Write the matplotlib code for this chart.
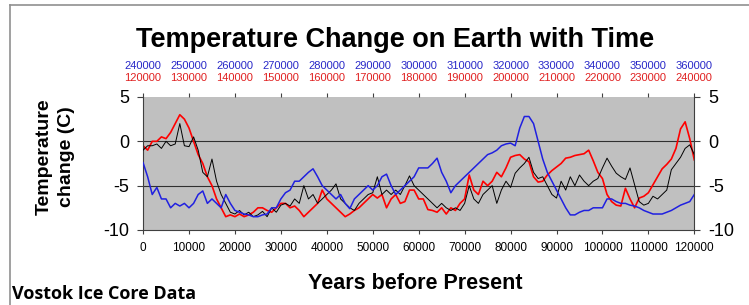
# Vostok ice core temperature chart, three 120000 year slices on one axis
import matplotlib
matplotlib.use("Agg")
import matplotlib.pyplot as plt
from matplotlib.lines import Line2D

plt.rcParams['font.family'] = ['Liberation Sans', 'DejaVu Sans']
plt.rcParams['axes.unicode_minus'] = False

# years before present for the bottom (black) slice, the other two are shifted
years = list(range(0, 121000, 1000))
red_offset = 120000
blue_offset = 240000

# 0 - 120000 years
temp_black = [-1.0, -0.5, -0.5, -0.3, -0.8, 0.0, -0.5, -0.3, 2.0, -0.5,
              -0.6, 0.5, -1.0, -3.5, -4.0, -2.0, -4.5, -6.0, -7.0, -8.0,
              -8.2, -7.8, -8.3, -8.0, -8.5, -8.3, -7.9, -8.5, -7.5, -8.0,
              -7.2, -7.0, -7.3, -6.5, -7.0, -5.0, -6.5, -6.0, -7.0, -6.5,
              -6.0, -5.5, -4.8, -6.5, -7.0, -7.5, -7.8, -7.0, -6.5, -6.0,
              -5.8, -4.0, -6.0, -5.5, -6.0, -5.5, -6.0, -5.0, -3.9, -5.0,
              -5.5, -6.0, -6.5, -7.0, -7.5, -7.0, -7.5, -7.8, -7.5, -7.8,
              -7.0, -5.0, -6.5, -7.0, -6.0, -5.5, -5.0, -7.0, -5.5, -4.5,
              -5.2, -3.6, -3.0, -2.5, -1.8, -3.5, -4.2, -4.0, -5.0, -6.0,
              -6.4, -4.5, -5.5, -4.0, -5.0, -3.8, -4.5, -5.0, -4.5, -4.2,
              -3.0, -1.9, -2.8, -3.6, -4.0, -4.3, -3.0, -4.9, -6.8, -7.2,
              -7.0, -6.2, -6.5, -6.0, -5.5, -3.2, -2.5, -1.8, -0.8, -0.4,
              -1.5]

# 120000 - 240000 years
temp_red = [-0.5, -1.0, 0.0, 0.0, 0.5, 0.3, 1.0, 2.0, 3.0, 2.5,
            1.5, 0.0, -1.5, -2.5, -4.0, -5.0, -6.5, -7.5, -8.5, -8.3,
            -8.5, -8.2, -8.5, -8.3, -8.0, -7.5, -7.5, -7.8, -8.0, -7.5,
            -7.0, -7.0, -7.5, -7.3, -7.8, -8.5, -8.0, -7.5, -7.0, -5.5,
            -6.5, -7.0, -7.5, -8.0, -8.5, -8.2, -7.8, -7.5, -7.0, -6.5,
            -6.0, -6.4, -6.0, -7.5, -6.5, -6.0, -7.0, -6.8, -5.5, -5.5,
            -6.5, -6.5, -7.7, -7.8, -8.0, -7.5, -8.2, -7.5, -7.8, -7.0,
            -6.5, -3.8, -5.5, -6.0, -4.5, -5.0, -4.5, -3.5, -4.0, -3.0,
            -1.8, -1.6, -1.5, -2.0, -2.3, -4.0, -4.6, -4.5, -3.8, -3.3,
            -2.9, -2.5, -1.9, -1.8, -1.6, -1.5, -1.4, -1.0, -2.2, -3.5,
            -4.2, -6.0, -6.8, -7.2, -7.3, -5.3, -6.5, -7.5, -6.4, -6.2,
            -5.8, -4.9, -4.0, -3.1, -2.6, -2.0, -0.8, 1.4, 2.2, 0.3,
            -2.1]

# 240000 - 360000 years
temp_blue = [-2.4, -4.0, -6.0, -5.2, -6.5, -6.5, -7.5, -7.0, -7.3, -7.0,
             -7.5, -7.0, -6.0, -5.6, -7.0, -6.5, -7.0, -7.5, -6.0, -7.0,
             -7.8, -8.0, -8.2, -8.3, -8.5, -8.5, -8.3, -8.2, -7.5, -7.5,
             -6.5, -5.8, -5.5, -4.5, -4.5, -4.0, -3.5, -3.1, -4.0, -5.0,
             -5.5, -6.0, -6.5, -6.0, -7.0, -7.6, -6.5, -6.0, -5.5, -5.0,
             -5.5, -5.0, -4.0, -3.7, -5.0, -6.0, -5.5, -5.0, -4.5, -4.0,
             -3.0, -3.0, -3.0, -2.5, -1.9, -3.5, -4.5, -5.8, -5.0, -4.5,
             -4.0, -3.5, -3.0, -2.5, -2.0, -1.5, -1.3, -1.0, -0.5, -0.3,
             -0.2, -0.5, 1.5, 2.8, 2.8, 2.0, 0.0, -2.0, -3.5, -4.5,
             -5.5, -6.5, -7.5, -8.3, -8.3, -8.0, -7.8, -7.8, -7.5, -7.5,
             -7.5, -6.5, -6.5, -6.8, -7.0, -7.0, -7.2, -7.3, -7.5, -7.8,
             -8.0, -8.2, -8.2, -8.2, -8.0, -7.8, -7.5, -7.2, -7.0, -6.8,
             -6.0]

xticks = list(range(0, 130000, 10000))
yticks = [5, 0, -5, -10]

fig = plt.figure(figsize=(7.49, 3.05), dpi=100)
ax = fig.add_axes([0.191, 0.246, 0.736, 0.436])
ax.set_facecolor('#C0C0C0')

# gridlines at 0 and -5
for yv in [0, -5]:
    ax.axhline(yv, color='#303030', lw=0.8, zorder=1)

ax.plot(years, temp_red, color='#FF0000', lw=1.2, zorder=2)
ax.plot(years, temp_black, color='black', lw=0.7, zorder=3)
ax.plot(years, temp_blue, color='#2020E0', lw=1.1, zorder=4)

ax.set_xlim(0, 120000)
ax.set_ylim(-10, 5)
ax.set_xticks(xticks)
ax.set_xticklabels([str(t) for t in xticks], fontsize=8.5)
ax.set_yticks(yticks)
ax.tick_params(axis='x', direction='out', length=3, pad=6, top=True, color='#404040')
ax.tick_params(axis='y', direction='out', length=4, pad=6, labelsize=13,
               right=True, labelright=True, color='#404040')
for side in ['left', 'right', 'bottom']:
    ax.spines[side].set_color('#404040')
    ax.spines[side].set_linewidth(0.8)
ax.spines['top'].set_visible(False)

# extra top axes for the red and blue slices
sec_red = ax.secondary_xaxis('top', functions=(lambda x: x + red_offset, lambda x: x - red_offset))
sec_red.set_xticks([t + red_offset for t in xticks])
sec_red.set_xticklabels([str(t + red_offset) for t in xticks], fontsize=8, color='#E02020')
sec_red.tick_params(length=0, pad=10)
sec_red.spines['top'].set_visible(False)

sec_blue = ax.secondary_xaxis('top', functions=(lambda x: x + blue_offset, lambda x: x - blue_offset))
sec_blue.set_xticks([t + blue_offset for t in xticks])
sec_blue.set_xticklabels([str(t + blue_offset) for t in xticks], fontsize=8, color='#2828C8')
sec_blue.tick_params(length=0, pad=19)
sec_blue.spines['top'].set_visible(False)

# titles and labels
fig.text(0.527, 0.868, 'Temperature Change on Earth with Time', fontsize=19.5,
         fontweight='bold', ha='center', va='center')
fig.text(0.074, 0.487, 'Temperature\nchange (C)', fontsize=14, fontweight='bold',
         rotation=90, ha='center', va='center', multialignment='center', linespacing=1.45)
fig.text(0.554, 0.072, 'Years before Present', fontsize=15.5, fontweight='bold',
         ha='center', va='center')
fig.text(0.016, 0.008, 'Vostok Ice Core Data', fontsize=13, fontweight='bold',
         family=['Open Sans', 'DejaVu Sans'], ha='left', va='bottom')

# frame lines along the top and the left
fig.add_artist(Line2D([0.013, 1.0], [0.982, 0.982], color='#909090', lw=1.2))
fig.add_artist(Line2D([0.013, 0.013], [0.0, 0.982], color='#909090', lw=1.2))

plt.savefig('out.png', dpi=100)
